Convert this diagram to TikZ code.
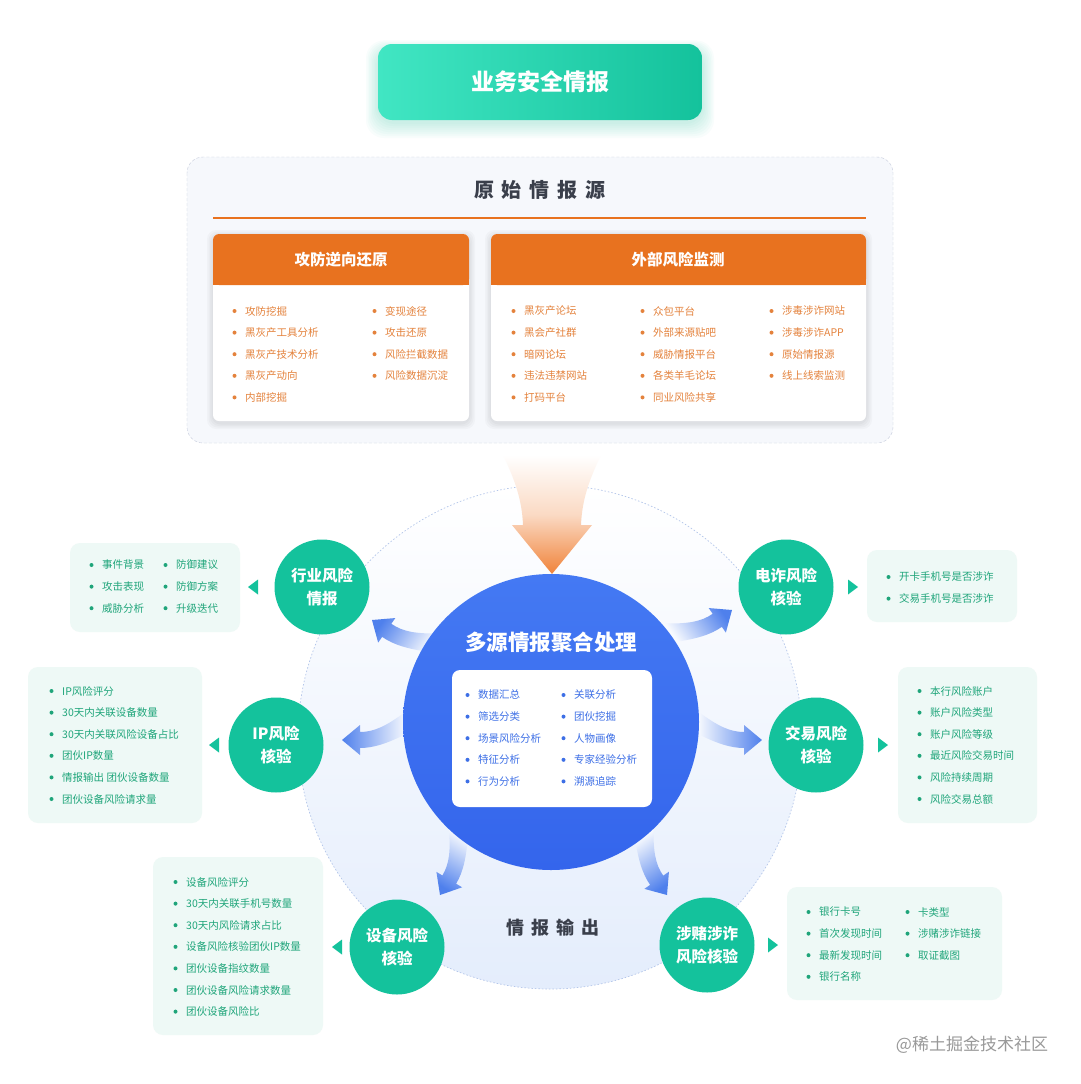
\documentclass[tikz,border=0pt]{standalone}
\usepackage{fontspec}
\setmainfont{Noto Sans CJK SC}
\usetikzlibrary{calc}
\definecolor{mint}{HTML}{14C29C}
\definecolor{mintlight}{HTML}{41E6C3}
\definecolor{mintbox}{HTML}{EEF9F6}
\definecolor{minttext}{HTML}{1FA57A}
\definecolor{hdrorange}{HTML}{E8721F}
\definecolor{orgtext}{HTML}{E4823C}
\definecolor{arrorange}{HTML}{F0833A}
\definecolor{hubtop}{HTML}{4479F3}
\definecolor{hubbot}{HTML}{3465EC}
\definecolor{bluetext}{HTML}{3D6FE6}
\definecolor{flowblue}{HTML}{4F80EC}
\definecolor{paleblue}{HTML}{E4EDFC}
\definecolor{ringblue}{HTML}{B4C6EA}
\definecolor{boxline}{HTML}{C4CADB}
\definecolor{boxfill}{HTML}{F6F8FC}
\definecolor{darktext}{HTML}{3A3F4B}
\def\fs#1{\fontsize{#1}{#1}\selectfont}
\def\lsp{\hspace{0.4em}}
% one column of bullet items: x, first y, colour, name, items
\def\itemcol#1#2#3#4#5{\foreach \txt [count=\row] in {#5}{%
  \fill[#3] (#1-10.5,{#2+21.6*(\row-1)}) circle (2pt);
  \node[item,text=#3] (#4-\row) at (#1,{#2+21.6*(\row-1)}) {\txt};}}
% soft blue arrow: tip, direction, mirror
\def\flow(#1)(#2)(#3){\begin{scope}[shift={(#1)},rotate=#2,yscale=#3]
  \shade[top color=paleblue!30!white, bottom color=flowblue, shading angle={#2+90}]
   (0,0) -- (-18,15) -- (-18,8) .. controls (-32,8) and (-44,14) .. (-62,27)
   -- (-64,6) .. controls (-46,-3) and (-32,-8) .. (-18,-8) -- (-18,-15) -- cycle;
  \end{scope}}
\def\softshadow(#1,#2)(#3,#4){\foreach \k in {1,...,4}{%
  \fill[black,opacity=0.022,rounded corners=9pt] (#1-1.5*\k,#2-1.5*\k+2) rectangle (#3+1.5*\k,#4+1.5*\k+2);}}

\tikzset{
  item/.style={anchor=west, inner sep=0pt, font=\fs{10.5}},
  risk/.style={circle, fill=mint, minimum size=95pt, inner sep=0pt, text=white,
    align=center, font=\bfseries\fontsize{15.5}{23}\selectfont},
  sidebox/.style={fill=mintbox, rounded corners=10pt},
  hdr/.style={text=white, font=\bfseries\fs{15.5}},
  heading/.style={text=darktext, font=\bfseries\fs{20}},
}

\begin{document}
\begin{tikzpicture}[x=1pt,y=-1pt]
  %%%%% START %%%%%
  \fill[white] (0,0) rectangle (1080,1084);
  \useasboundingbox (0,0) rectangle (1080,1084);

  % title
  \foreach \k in {1,...,8}{\fill[mint,opacity=0.028,rounded corners=18pt] (378-1.5*\k,50-1.2*\k) rectangle (702+1.5*\k,122+2*\k);}
  \shade[left color=mintlight, right color=mint, rounded corners=14pt] (378,44) rectangle (702,120);
  \node[text=white, font=\bfseries\fs{23}] (title) at (540,82) {业务安全情报};

  % source box
  \draw[boxline, fill=boxfill, dash pattern=on 3pt off 2pt, rounded corners=16pt] (187,157) rectangle (893,443);
  \node[heading] (src) at (540,190) {原\lsp 始\lsp 情\lsp 报\lsp 源};
  \draw[hdrorange, line width=2.8pt] (213,218) -- (866,218);

  \softshadow(213,234)(469,421)
  \softshadow(491,234)(866,421)
  \fill[white, rounded corners=6pt] (213,234) rectangle (469,421);
  \fill[white, rounded corners=6pt] (491,234) rectangle (866,421);
  \fill[hdrorange, rounded corners=6pt] (213,234) rectangle (469,285);
  \fill[hdrorange] (213,275) rectangle (469,285);
  \fill[hdrorange, rounded corners=6pt] (491,234) rectangle (866,285);
  \fill[hdrorange] (491,275) rectangle (866,285);
  \node[hdr] (atk) at (341,260) {攻防逆向还原};
  \node[hdr] (ext) at (678,260) {外部风险监测};

  \itemcol{245}{311}{orgtext}{a}{攻防挖掘,黑灰产工具分析,黑灰产技术分析,黑灰产动向,内部挖掘}
  \itemcol{385}{311}{orgtext}{b}{变现途径,攻击还原,风险拦截数据,风险数据沉淀}
  \itemcol{524}{311}{orgtext}{c}{黑灰产论坛,黑会产社群,暗网论坛,违法违禁网站,打码平台}
  \itemcol{653}{311}{orgtext}{d}{众包平台,外部来源贴吧,威胁情报平台,各类羊毛论坛,同业风险共享}
  \itemcol{782}{311}{orgtext}{e}{涉毒涉诈网站,涉毒涉诈APP,原始情报源,线上线索监测}

  % output ring
  \shade[top color=white, bottom color=paleblue] (550,737) circle[radius=252pt];
  \draw[ringblue, line width=0.7pt, dash pattern=on 1.5pt off 2pt] (550,737) circle[radius=252pt];
  \node[text=darktext, font=\bfseries\fs{18}] (out) at (553,928) {情\lsp 报\lsp 输\lsp 出};

  \flow(372,620)(145)(1)
  \flow(342,740)(180)(1)
  \flow(440,895)(239)(1)
  \flow(732,610)(35)(-1)
  \flow(762,740)(0)(-1)
  \flow(667,895)(305)(-1)

  \shade[top color=white, bottom color=arrorange, middle color=arrorange!30!white]
    (503,455) .. controls (515,480) and (522,500) .. (523,525) -- (512,525) -- (552,574)
    -- (592,525) -- (581,525) .. controls (582,500) and (589,480) .. (601,455) -- cycle;

  % hub
  \shade[top color=hubtop, bottom color=hubbot] (551,722) circle[radius=148pt];
  \node[text=white, font=\bfseries\fs{21.5}] (hub) at (551,642) {多源情报聚合处理};
  \fill[white, rounded corners=8pt] (452,670) rectangle (652,807);
  \itemcol{478}{695}{bluetext}{f}{数据汇总,筛选分类,场景风险分析,特征分析,行为分析}
  \itemcol{574}{695}{bluetext}{g}{关联分析,团伙挖掘,人物画像,专家经验分析,溯源追踪}

  % checks
  \node[risk] (g1) at (322,587) {行业风险\\情报};
  \node[risk] (g2) at (276,745) {IP风险\\核验};
  \node[risk] (g3) at (397,947) {设备风险\\核验};
  \node[risk] (g4) at (786,587) {电诈风险\\核验};
  \node[risk] (g5) at (816,745) {交易风险\\核验};
  \node[risk] (g6) at (707,945) {涉赌涉诈\\风险核验};
  \foreach \g/\dx in {g1/-74,g2/-67,g3/-65}
    \fill[mint] ($(\g)+(\dx,0)$) -- ++(10,-7.5) -- ++(0,15) -- cycle;
  \foreach \g/\dx in {g4/72,g5/72,g6/71}
    \fill[mint] ($(\g)+(\dx,0)$) -- ++(-10,-7.5) -- ++(0,15) -- cycle;

  \fill[sidebox] (70,543) rectangle (240,632);
  \itemcol{102}{565}{minttext}{h}{事件背景,攻击表现,威胁分析}
  \itemcol{176}{565}{minttext}{i}{防御建议,防御方案,升级迭代}

  \fill[sidebox] (28,667) rectangle (202,823);
  \itemcol{62}{691}{minttext}{j}{IP风险评分,30天内关联设备数量,30天内关联风险设备占比,团伙IP数量,情报输出 团伙设备数量,团伙设备风险请求量}

  \fill[sidebox] (153,857) rectangle (323,1035);
  \itemcol{186}{882}{minttext}{k}{设备风险评分,30天内关联手机号数量,30天内风险请求占比,设备风险核验团伙IP数量,团伙设备指纹数量,团伙设备风险请求数量,团伙设备风险比}

  \fill[sidebox] (867,550) rectangle (1017,622);
  \itemcol{899}{577}{minttext}{l}{开卡手机号是否涉诈,交易手机号是否涉诈}

  \fill[sidebox] (898,667) rectangle (1037,823);
  \itemcol{930}{691}{minttext}{m}{本行风险账户,账户风险类型,账户风险等级,最近风险交易时间,风险持续周期,风险交易总额}

  \fill[sidebox] (787,887) rectangle (1002,1000);
  \itemcol{819}{912}{minttext}{n}{银行卡号,首次发现时间,最新发现时间,银行名称}
  \itemcol{918}{912}{minttext}{o}{卡类型,涉赌涉诈链接,取证截图}

  \node[text=black!40, font=\fs{17}] (mark) at (972,1045) {@稀土掘金技术社区};
  %%%%% END %%%%%
\end{tikzpicture}
\end{document}
